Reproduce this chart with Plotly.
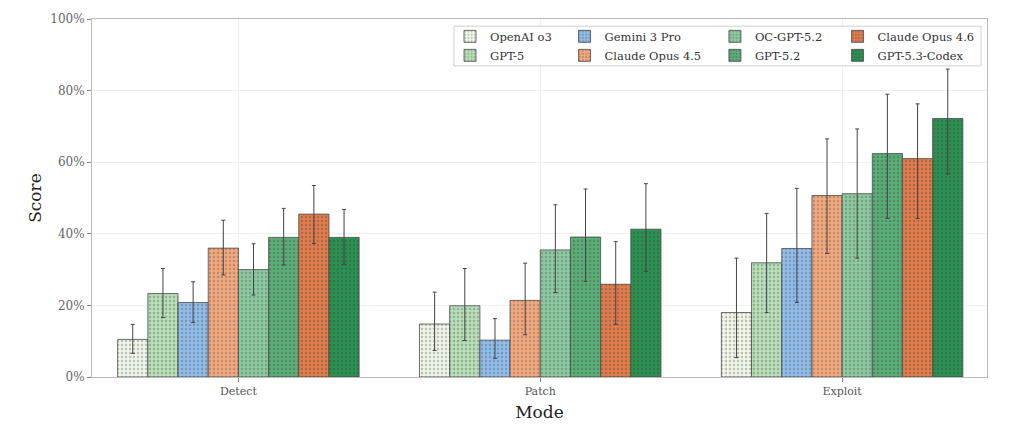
import plotly.graph_objects as go

modes = ["Detect", "Patch", "Exploit"]
models = ["OpenAI o3", "GPT-5", "Gemini 3 Pro", "Claude Opus 4.5",
          "OC-GPT-5.2", "GPT-5.2", "Claude Opus 4.6", "GPT-5.3-Codex"]

# scores (%) per model: [Detect, Patch, Exploit]
scores = {
    "OpenAI o3":       [10.5, 14.8, 18.0],
    "GPT-5":           [23.3, 19.9, 31.9],
    "Gemini 3 Pro":    [20.8, 10.3, 35.9],
    "Claude Opus 4.5": [36.0, 21.4, 50.7],
    "OC-GPT-5.2":      [30.0, 35.5, 51.2],
    "GPT-5.2":         [39.0, 39.1, 62.4],
    "Claude Opus 4.6": [45.5, 25.9, 61.0],
    "GPT-5.3-Codex":   [39.0, 41.3, 72.2],
}
# confidence interval upper / lower bounds (%)
ci_high = {
    "OpenAI o3":       [14.7, 23.7, 33.2],
    "GPT-5":           [30.3, 30.3, 45.7],
    "Gemini 3 Pro":    [26.6, 16.3, 52.7],
    "Claude Opus 4.5": [43.8, 31.8, 66.5],
    "OC-GPT-5.2":      [37.2, 48.1, 69.3],
    "GPT-5.2":         [47.1, 52.5, 79.0],
    "Claude Opus 4.6": [53.5, 37.8, 76.3],
    "GPT-5.3-Codex":   [46.8, 54.0, 86.0],
}
ci_low = {
    "OpenAI o3":       [6.6, 7.4, 5.4],
    "GPT-5":           [16.6, 10.2, 18.0],
    "Gemini 3 Pro":    [15.2, 5.2, 20.8],
    "Claude Opus 4.5": [28.5, 11.8, 34.5],
    "OC-GPT-5.2":      [22.9, 23.6, 33.2],
    "GPT-5.2":         [31.3, 26.7, 44.3],
    "Claude Opus 4.6": [37.3, 14.7, 44.3],
    "GPT-5.3-Codex":   [31.5, 29.5, 56.7],
}
colors = {
    "OpenAI o3":       "#eef6e8",
    "GPT-5":           "#b8deb8",
    "Gemini 3 Pro":    "#90bde9",
    "Claude Opus 4.5": "#f2a87e",
    "OC-GPT-5.2":      "#8cc9a0",
    "GPT-5.2":         "#5aad77",
    "Claude Opus 4.6": "#e07b4b",
    "GPT-5.3-Codex":   "#2b9052",
}
# legend column for each model (4 columns x 2 rows)
legend_col = {
    "OpenAI o3": 0, "GPT-5": 0,
    "Gemini 3 Pro": 1, "Claude Opus 4.5": 1,
    "OC-GPT-5.2": 2, "GPT-5.2": 2,
    "Claude Opus 4.6": 3, "GPT-5.3-Codex": 3,
}
legend_ids = ["legend", "legend2", "legend3", "legend4"]
legend_x = [0.400, 0.528, 0.696, 0.833]

FONT = "DejaVu Serif"
fig = go.Figure()
for m in models:
    s = scores[m]
    up = [h - v for h, v in zip(ci_high[m], s)]
    dn = [v - l for v, l in zip(s, ci_low[m])]
    fig.add_trace(go.Bar(
        name=m, x=modes, y=s,
        marker=dict(color=colors[m],
                    line=dict(color="#4a4a4a", width=0.8),
                    pattern=dict(shape=".", fgcolor="rgba(60,60,60,0.6)",
                                 size=4, solidity=0.28)),
        error_y=dict(type="data", symmetric=False, array=up, arrayminus=dn,
                     color="#444444", thickness=1, width=2),
        legend=legend_ids[legend_col[m]],
    ))

legend_common = dict(orientation="v", xanchor="left", yanchor="top", y=0.992,
                     bgcolor="rgba(0,0,0,0)", borderwidth=0,
                     font=dict(family=FONT, size=11.5, color="#333333"),
                     tracegroupgap=0)
legends = {}
for i, lid in enumerate(legend_ids):
    legends[lid] = dict(legend_common, x=legend_x[i])

fig.update_layout(
    width=1024, height=436,
    margin=dict(l=84, r=45, t=11, b=67, autoexpand=False),
    barmode="group", bargap=0.2, bargroupgap=0,
    plot_bgcolor="white", paper_bgcolor="white",
    font=dict(family=FONT, color="#555555", size=11),
    shapes=[dict(type="rect", xref="paper", yref="paper",
                 x0=0.4045, x1=0.9933, y0=0.869, y1=0.980,
                 fillcolor="white", line=dict(color="#d0d0d0", width=1),
                 layer="above")],
    xaxis=dict(range=[-0.485, 2.48], showgrid=True, gridcolor="#f0f0f0",
               automargin=False,
               ticks="outside", ticklen=4, tickcolor="#888",
               showline=True, linecolor="#bbbbbb", mirror=True,
               tickfont=dict(family=FONT, size=11, color="#555"),
               title=dict(text="Mode", font=dict(family=FONT, size=17, color="#222"),
                          standoff=8)),
    yaxis=dict(range=[0, 100], tickvals=[0, 20, 40, 60, 80, 100],
               ticktext=["0%", "20%", "40%", "60%", "80%", "100%"],
               automargin=False,
               showgrid=True, gridcolor="#f0f0f0", zeroline=False,
               ticks="outside", ticklen=4, tickcolor="#888",
               showline=True, linecolor="#bbbbbb", mirror=True,
               tickfont=dict(family=FONT, size=12, color="#666"),
               title=dict(text="Score", font=dict(family=FONT, size=17, color="#222"),
                          standoff=4)),
    **legends,
)
fig.write_html("out.html")
